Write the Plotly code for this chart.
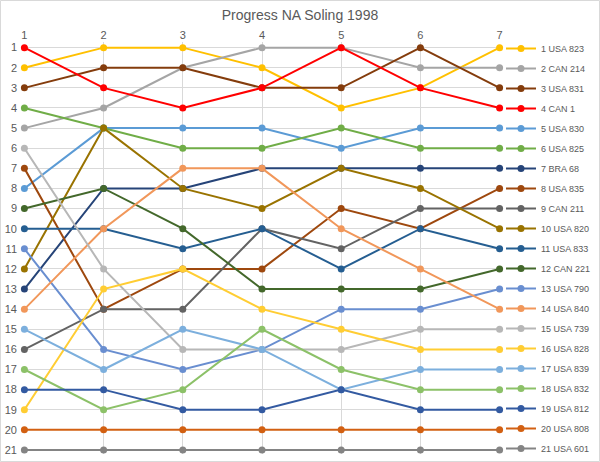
import plotly.graph_objects as go

races = [1, 2, 3, 4, 5, 6, 7]
rank_ticks = list(range(1, 22))

boats = ["1 USA 823", "2 CAN 214", "3 USA 831", "4 CAN 1", "5 USA 830", "6 USA 825",
         "7 BRA 68", "8 USA 835", "9 CAN 211", "10 USA 820", "11 USA 833", "12 CAN 221",
         "13 USA 790", "14 USA 840", "15 USA 739", "16 USA 828", "17 USA 839",
         "18 USA 832", "19 USA 812", "20 USA 808", "21 USA 601"]

usa823 = [2, 1, 1, 2, 4, 3, 1]
can214 = [5, 4, 2, 1, 1, 2, 2]
usa831 = [3, 2, 2, 3, 3, 1, 3]
can1 = [1, 3, 4, 3, 1, 3, 4]
usa830 = [8, 5, 5, 5, 6, 5, 5]
usa825 = [4, 5, 6, 6, 5, 6, 6]
bra68 = [13, 8, 8, 7, 7, 7, 7]
usa835 = [7, 14, 12, 12, 9, 10, 8]
can211 = [16, 14, 14, 10, 11, 9, 9]
usa820 = [12, 5, 8, 9, 7, 8, 10]
usa833 = [10, 10, 11, 10, 12, 10, 11]
can221 = [9, 8, 10, 13, 13, 13, 12]
usa790 = [11, 16, 17, 16, 14, 14, 13]
usa840 = [14, 10, 7, 7, 10, 12, 14]
usa739 = [6, 12, 16, 16, 16, 15, 15]
usa828 = [19, 13, 12, 14, 15, 16, 16]
usa839 = [15, 17, 15, 16, 18, 17, 17]
usa832 = [17, 19, 18, 15, 17, 18, 18]
usa812 = [18, 18, 19, 19, 18, 19, 19]
usa808 = [20, 20, 20, 20, 20, 20, 20]
usa601 = [21, 21, 21, 21, 21, 21, 21]

series = [usa823, can214, usa831, can1, usa830, usa825, bra68, usa835, can211, usa820,
          usa833, can221, usa790, usa840, usa739, usa828, usa839, usa832, usa812,
          usa808, usa601]

colors = ["#FFC000", "#A5A5A5", "#843C0C", "#FF0000", "#5B9BD5", "#70AD47",
          "#264478", "#9E480E", "#636363", "#997300", "#255E91", "#43682B",
          "#698ED0", "#F1975A", "#B7B7B7", "#FFCD33", "#7CAFDD", "#8CC168",
          "#335AA1", "#D26012", "#848484"]

FONT = "Liberation Sans, Arial, sans-serif"
TXT = "#595959"
W, H = 600, 462
ML, MR, MT, MB = 24, 100, 42, 8

fig = go.Figure()
for i, (name, vals, col) in enumerate(zip(boats, series, colors)):
    fig.add_trace(go.Scatter(
        x=races, y=vals, name=name, mode="lines+markers",
        line=dict(color=col, width=2),
        marker=dict(color=col, size=7),
        cliponaxis=False, legendgroup=f"g{i}",
    ))

pw = W - ML - MR
ph = H - MT - MB
fig.add_shape(type="rect", xref="paper", yref="paper",
              x0=(0.5 - ML) / pw, x1=(W - 0.5 - ML) / pw,
              y0=(MB - 0.5) / ph * -1, y1=(H - MB - 0.5) / ph,
              line=dict(color="#D9D9D9", width=1), layer="below")

fig.update_layout(
    width=W, height=H,
    margin=dict(l=ML, r=MR, t=MT, b=MB, autoexpand=False),
    paper_bgcolor="white", plot_bgcolor="white",
    font=dict(family=FONT, color=TXT, size=11),
    title=dict(text="Progress NA Soling 1998", x=(300 - ML) / pw, xref="paper",
               xanchor="center", y=1 - 15 / H, yanchor="middle",
               font=dict(family=FONT, size=14, color=TXT)),
    showlegend=True,
    legend=dict(xref="container", x=501 / W, xanchor="left",
                yref="container", y=1 - 34 / H, yanchor="top",
                font=dict(family=FONT, size=9, color=TXT),
                tracegroupgap=1, itemwidth=30, maxheight=1,
                bgcolor="rgba(0,0,0,0)"),
)

fig.update_xaxes(side="top", range=[0.995, 7.005], tickmode="array", tickvals=races,
                 ticktext=[str(r) for r in races], automargin=False,
                 showgrid=True, gridcolor="#D9D9D9", gridwidth=1, zeroline=False,
                 showline=False, ticks="", tickfont=dict(size=11, color=TXT))
fig.update_yaxes(range=[21.2, 0.72], tickmode="array", tickvals=rank_ticks,
                 ticktext=[str(r) for r in rank_ticks], automargin=False,
                 showgrid=True, gridcolor="#D9D9D9", gridwidth=1, zeroline=False,
                 showline=False, ticks="", ticklabelstandoff=6,
                 tickfont=dict(size=11, color=TXT))

fig.write_html("out.html", config={"displayModeBar": False},
               post_script="document.body.style.margin='0';document.body.style.overflow='hidden';")
